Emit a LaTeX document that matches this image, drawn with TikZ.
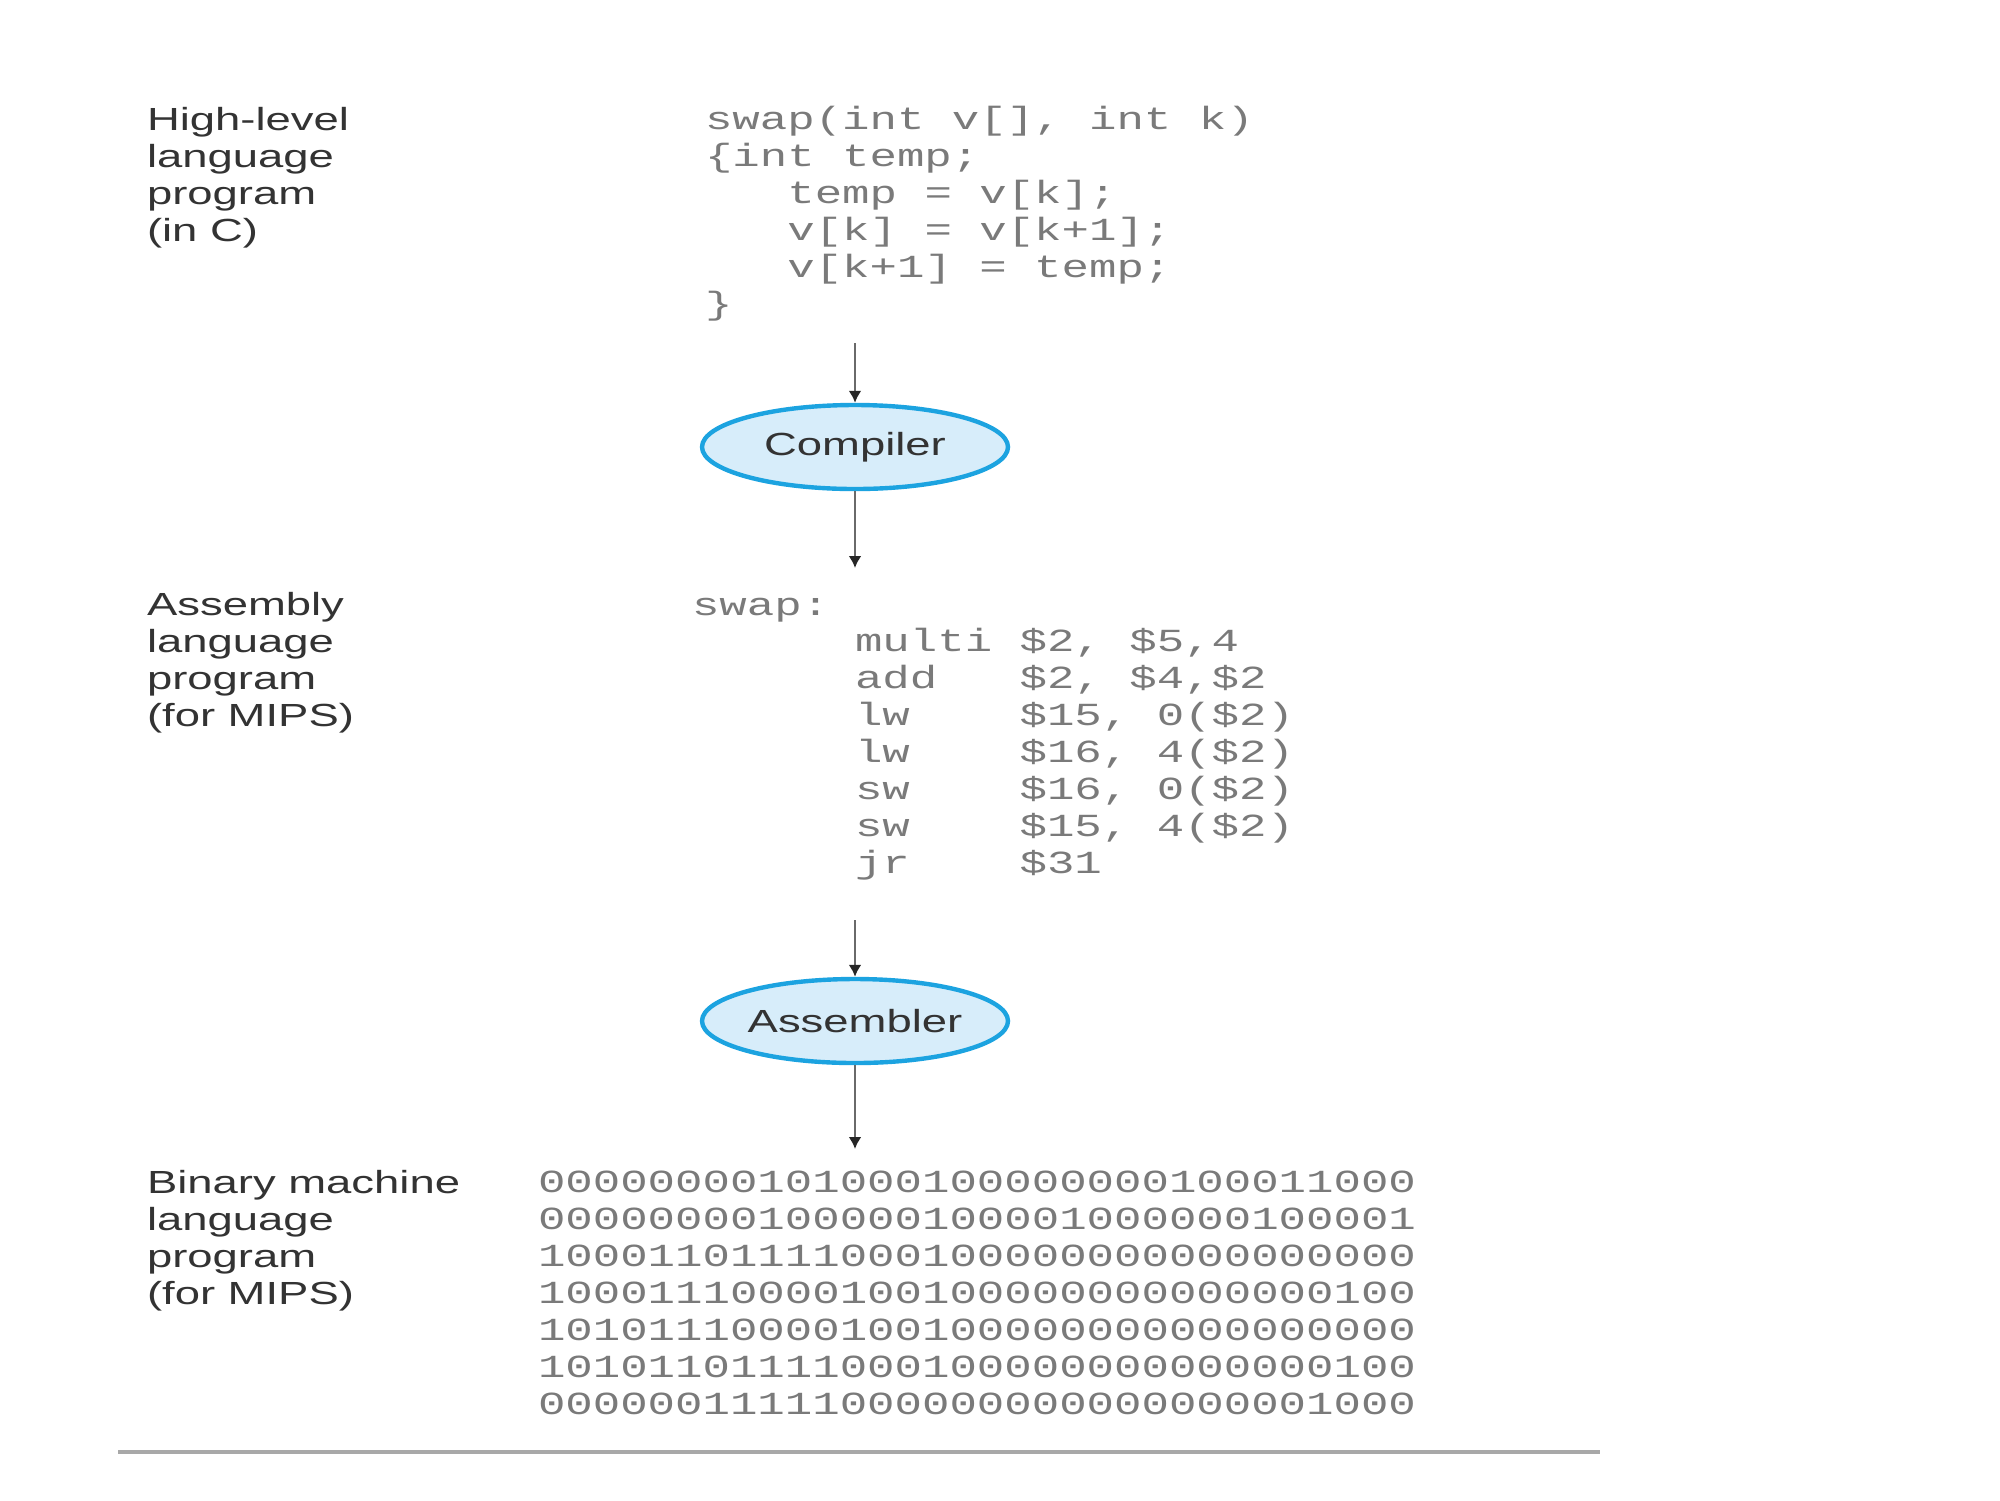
\documentclass[tikz,border=0pt]{standalone}
\usepackage{fontspec}
\setmainfont{Liberation Sans}[FakeStretch=1.42]
\newfontfamily\codefont{Liberation Mono}[FakeStretch=1.42]
\usetikzlibrary{shapes.geometric,arrows.meta}
\definecolor{lblcol}{HTML}{333333}
\definecolor{codecol}{HTML}{7A7A7A}
\definecolor{ellborder}{HTML}{1CA3E0}
\definecolor{ellfill}{HTML}{D7EDFA}
\definecolor{rulecol}{HTML}{A8A8A8}
\definecolor{arrcol}{HTML}{6A6A6A}
\begin{document}
\begin{tikzpicture}[x=0.5pt,y=-0.5pt,
  lvl/.style={anchor=base west, inner sep=0pt, outer sep=0pt, align=left, text=lblcol,
    font=\fontsize{16}{18.5}\selectfont},
  codeblk/.style={anchor=base west, inner sep=0pt, outer sep=0pt, align=left, text=codecol,
    font=\codefont\fontsize{16.1}{18.5}\selectfont},
  tool/.style={ellipse, draw=ellborder, fill=ellfill, line width=2.2pt,
    minimum width=153pt, minimum height=42pt, inner sep=0pt, text=lblcol,
    font=\fontsize{16}{18.5}\selectfont},
  flow/.style={draw=arrcol, line width=1.2pt, -{Latex[length=6pt,width=6.5pt,color=black!85]}}
]
\useasboundingbox (0,0) rectangle (2000,1500);

% High-level program (anchors at baseline of last line)
\node[lvl] (hll) at (147,241) {High-level\\language\\program\\(in C)};
\node[codeblk] (ccode) at (705,314) {swap(int v[], int k)\\
\{int temp;\\
\hphantom{000}temp = v[k];\\
\hphantom{000}v[k] = v[k+1];\\
\hphantom{000}v[k+1] = temp;\\
\}};

% Compiler
\node[tool] (comp) at (855,447) {Compiler};
\coordinate (c1) at (855,343);
\coordinate (c2) at (855,568);
\draw[flow] (c1) -- (comp.north);
\draw[flow] (comp.south) -- (c2);

% Assembly program
\node[lvl] (asml) at (147,726) {Assembly\\language\\program\\(for MIPS)};
\node[codeblk] (swapl) at (692,615) {swap:};
\node[codeblk] (asm) at (855,873) {multi\hphantom{0}\$2, \$5,4\\
add\hphantom{000}\$2, \$4,\$2\\
lw\hphantom{0000}\$15, 0(\$2)\\
lw\hphantom{0000}\$16, 4(\$2)\\
sw\hphantom{0000}\$16, 0(\$2)\\
sw\hphantom{0000}\$15, 4(\$2)\\
jr\hphantom{0000}\$31};

% Assembler
\node[tool] (asmb) at (855,1021) {Assembler};
\coordinate (a1) at (855,920);
\coordinate (a2) at (855,1149);
\draw[flow] (a1) -- (asmb.north);
\draw[flow] (asmb.south) -- (a2);

% Binary program
\node[lvl] (binl) at (147,1304) {Binary machine\\language\\program\\(for MIPS)};
\node[codeblk] (bits) at (538,1414) {00000000101000100000000100011000\\
00000000100000100001000000100001\\
10001101111000100000000000000000\\
10001110000100100000000000000100\\
10101110000100100000000000000000\\
10101101111000100000000000000100\\
00000011111000000000000000001000};

% bottom rule
\coordinate (r1) at (118,1452);
\coordinate (r2) at (1600,1452);
\draw[rulecol, line width=1.8pt] (r1) -- (r2);
\end{tikzpicture}
\end{document}
